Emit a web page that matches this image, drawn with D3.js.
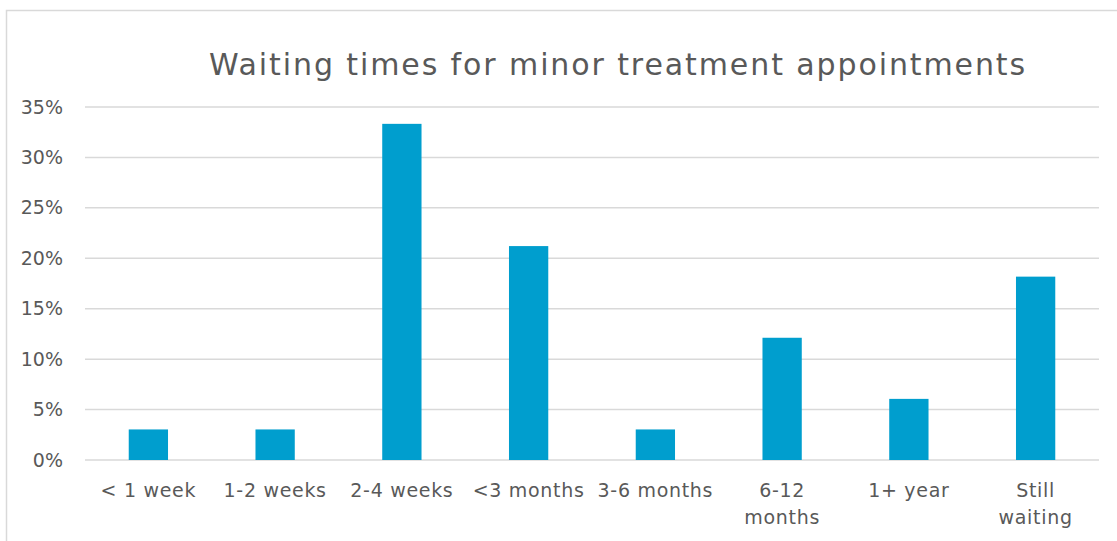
<!DOCTYPE html>
<html>
<head>
<meta charset="utf-8">
<script src="https://d3js.org/d3.v7.min.js"></script>
<style>
    body { margin: 0; background: #fff; }
    svg { display: block; font-family: "DejaVu Sans", sans-serif; }
</style>
</head>
<body>
<svg id="chart"></svg>
<script>
const categories = ["< 1 week", "1-2 weeks", "2-4 weeks", "<3 months", "3-6 months", "6-12 months", "1+ year", "Still waiting"];
const categoryLines = [["< 1 week"], ["1-2 weeks"], ["2-4 weeks"], ["<3 months"], ["3-6 months"], ["6-12", "months"], ["1+ year"], ["Still", "waiting"]];
const values = [3.03, 3.03, 33.33, 21.21, 3.03, 12.12, 6.06, 18.18];
const yTicks = [0, 5, 10, 15, 20, 25, 30, 35];
const title = "Waiting times for minor treatment appointments";

const W = 1117, H = 541;
const margin = { top: 107, right: 18, bottom: 81, left: 85 };
const width = W - margin.left - margin.right;
const height = H - margin.top - margin.bottom;

const svg = d3.select("#chart").attr("width", W).attr("height", H);

// outer chart frame (continues past the right and bottom edges)
svg.append("rect")
    .attr("x", 6.5).attr("y", 10.5)
    .attr("width", W + 20).attr("height", H + 20)
    .attr("fill", "none")
    .attr("stroke", "#d9d9d9")
    .attr("stroke-width", 1.5);

svg.append("text")
    .attr("x", 618).attr("y", 75)
    .attr("text-anchor", "middle")
    .attr("fill", "#595959")
    .style("font-size", "30px")
    .style("letter-spacing", "1.9px")
    .text(title);

const g = svg.append("g").attr("transform", `translate(${margin.left},${margin.top})`);

const x = d3.scaleBand().domain(categories).range([0, width]);
const y = d3.scaleLinear().domain([0, 35]).range([height, 0]);

// gridlines
g.selectAll(".grid").data(yTicks).enter().append("line")
    .attr("class", "grid")
    .attr("x1", 0).attr("x2", width)
    .attr("y1", d => y(d)).attr("y2", d => y(d))
    .attr("stroke", "#d9d9d9")
    .attr("stroke-width", 1.5);

// y tick labels
const yAxis = g.append("g")
    .call(d3.axisLeft(y).tickValues(yTicks).tickFormat(d => d + "%").tickSize(0).tickPadding(22));
yAxis.select(".domain").remove();
yAxis.selectAll("text").attr("fill", "#595959").style("font-size", "19px").style("font-family", "DejaVu Sans, sans-serif");

// bars
const barW = x.bandwidth() * 0.31;
g.selectAll(".bar").data(values).enter().append("rect")
    .attr("class", "bar")
    .attr("x", (d, i) => x(categories[i]) + (x.bandwidth() - barW) / 2)
    .attr("y", d => y(d))
    .attr("width", barW)
    .attr("height", d => y(0) - y(d))
    .attr("fill", "#009ece");

// x labels
const xl = g.selectAll(".xlab").data(categoryLines).enter().append("text")
    .attr("class", "xlab")
    .attr("text-anchor", "middle")
    .attr("fill", "#595959")
    .style("font-size", "19px")
    .style("letter-spacing", "0.7px")
    .attr("transform", (d, i) => `translate(${x(categories[i]) + x.bandwidth() / 2},${height + 37})`);
xl.selectAll("tspan").data(d => d).enter().append("tspan")
    .attr("x", 0)
    .attr("y", (d, i) => i * 27)
    .text(d => d);
</script>
</body>
</html>
